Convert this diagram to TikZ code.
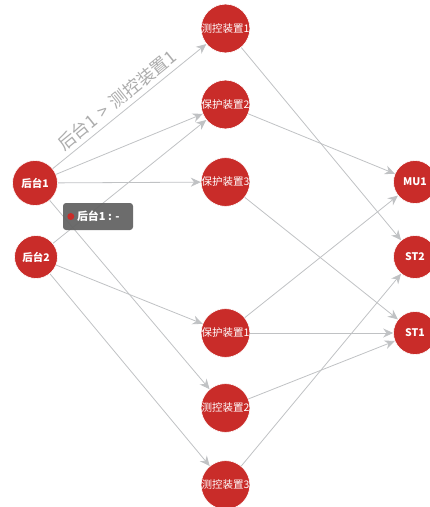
\documentclass[tikz,border=0pt]{standalone}
\usepackage{fontspec}
\setmainfont{Noto Sans CJK SC}
\usetikzlibrary{arrows.meta}
\definecolor{nodered}{RGB}{201,44,41}
\definecolor{edgegray}{RGB}{192,194,196}
\definecolor{labelgray}{RGB}{172,172,172}
\definecolor{tipgray}{RGB}{100,100,100}
\begin{document}
\begin{tikzpicture}[x=1pt,y=-1pt,
  dev/.style={circle,fill=nodered,draw=white,line width=0.6pt,minimum size=45pt,inner sep=0pt,text=white,font=\fontsize{10.5}{10.5}\selectfont},
  host/.style={dev,font=\fontsize{10.5}{10.5}\selectfont\bfseries},
  link/.style={draw=edgegray,line width=0.8pt,-{Stealth[length=10pt,width=9pt]}},
]
\useasboundingbox (0,0) rectangle (430,507);
% nodes
\node[host] (h1) at (35,183) {后台1};
\node[host,minimum size=43pt] (h2) at (36,257) {后台2};
\node[dev] (c1) at (225.5,28.5) {测控装置1};
\node[dev] (p2) at (225.5,104.5) {保护装置2};
\node[dev] (p3) at (225.5,182) {保护装置3};
\node[dev] (p1) at (225.5,333) {保护装置1};
\node[dev] (c2) at (225.5,408) {测控装置2};
\node[dev] (c3) at (225.5,485) {测控装置3};
\node[host,minimum size=43pt] (mu1) at (415,182) {MU1};
\node[host,minimum size=43pt] (st2) at (415,257) {ST2};
\node[host,minimum size=43pt] (st1) at (415,333) {ST1};
% links
\draw[link] (h1) -- node[pos=0.47,sloped,above=1pt,text=labelgray,font=\fontsize{17.5}{17.5}\selectfont] (lbl) {后台1\hspace{0.35em}>\hspace{0.35em}测控装置1} (c1);
\draw[link] (h1) -- (p2);
\draw[link] (h1) -- (p3);
\draw[link] (h1) -- (c2);
\draw[link] (h2) -- (p2);
\draw[link] (h2) -- (p1);
\draw[link] (h2) -- (c3);
\draw[link] (c1) -- (st2);
\draw[link] (p2) -- (mu1);
\draw[link] (p3) -- (st1);
\draw[link] (p1) -- (mu1);
\draw[link] (p1) -- (st1);
\draw[link] (c2) -- (st1);
\draw[link] (c3) -- (st2);
% tooltip
\node[fill=tipgray,fill opacity=0.95,text opacity=1,rounded corners=3pt,minimum width=70pt,minimum height=27pt,inner sep=0pt] (tip) at (98,216.5) {};
\fill[nodered] ([xshift=8pt]tip.west) circle (3.5pt) coordinate (dot);
\node[anchor=west,text=white,font=\fontsize{11}{11}\selectfont\bfseries,inner sep=0pt] (tiptext) at ([xshift=14pt]tip.west) {后台1 : -};
\end{tikzpicture}
\end{document}
